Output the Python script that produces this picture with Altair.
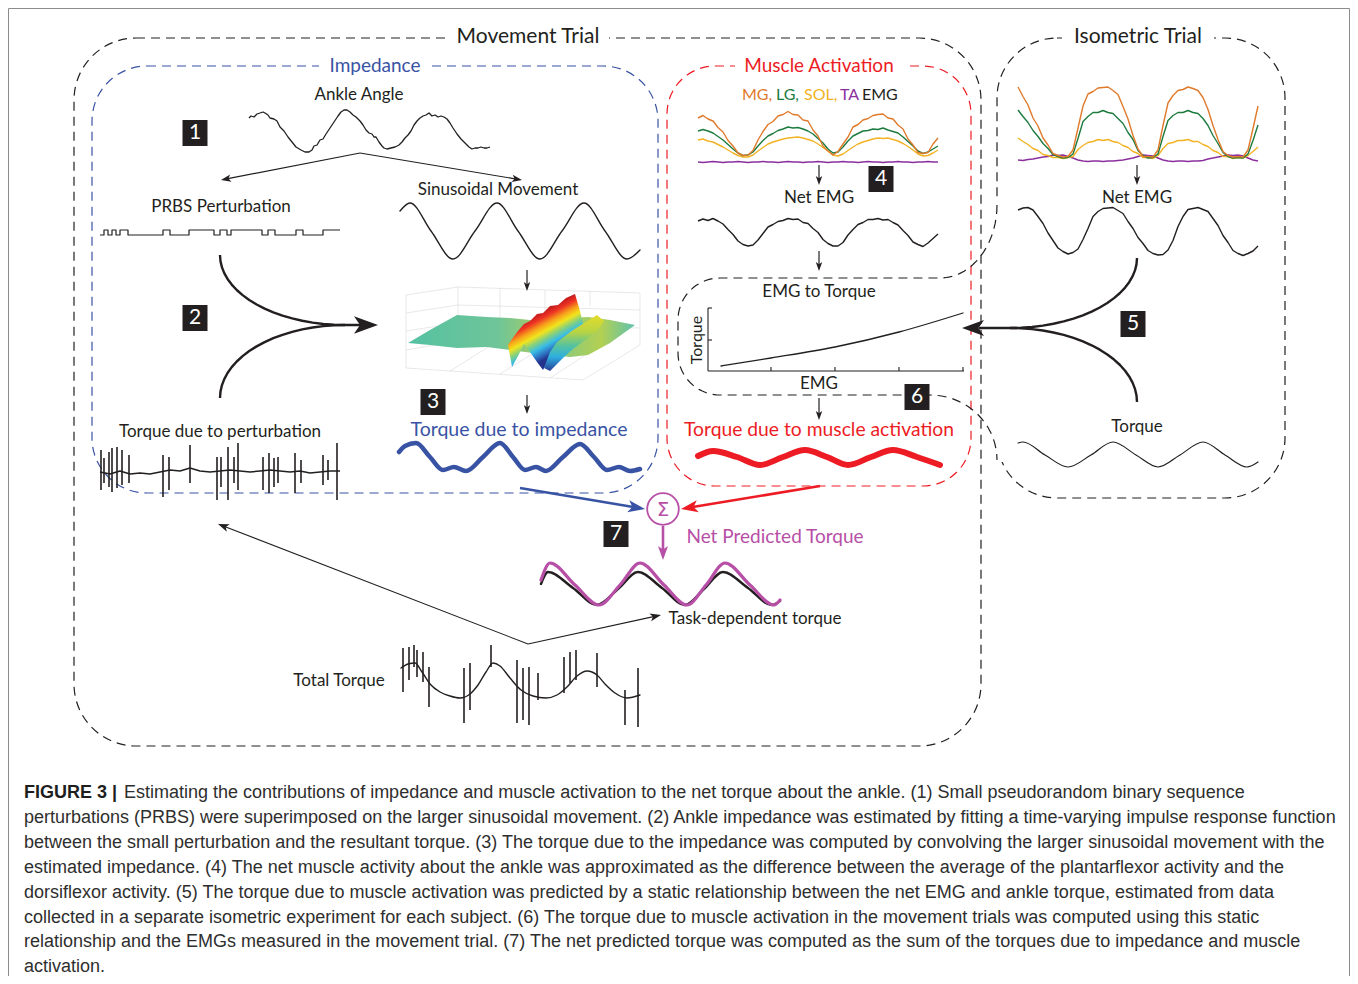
import math
import altair as alt
import pandas as pd

# ---------------- palette / fonts ----------------
INK = "#231f20"
BLUE = "#3953a4"
RED = "#ed1c24"
MAGENTA = "#b74fa6"
ORANGE = "#e07a2b"
GREEN = "#1d7b3e"
YELLOW = "#f2b324"
PURPLE = "#8c2f9e"
GRID = "#d8d8d8"
FONT = "Lato"
CAPFONT = "Liberation Sans"

# canvas expressed in the reference picture's pixel coordinates
X0, X1, Y0, Y1 = 8, 1350, 8, 976

# ================= DATA =================
# Ankle angle trace
ankle_x = [249, 251, 254, 257, 260, 263, 265, 268, 270, 274, 277, 280, 284, 288, 292, 296, 301, 305, 309, 312,
           314, 317, 320, 323, 326, 330, 334, 338, 341, 344, 347, 350, 353, 356, 360, 363, 366, 369, 372, 374,
           376, 379, 382, 384, 387, 391, 395, 399, 402, 405, 408, 411, 414, 417, 420, 423, 426, 429, 432, 435,
           438, 441, 444, 447, 450, 453, 457, 461, 465, 469, 472, 475, 478, 481, 484, 487, 490]
ankle_y = [118, 116, 117, 114, 113, 112, 113, 115, 118, 119, 121, 127, 131, 137, 142, 147, 150, 152, 152, 150,
           146, 145, 140, 139, 134, 128, 122, 116, 112, 110, 110, 112, 115, 117, 121, 125, 130, 133, 134, 137,
           137, 142, 146, 148, 149, 148, 147, 145, 142, 138, 135, 131, 125, 121, 118, 116, 115, 113, 116, 115,
           117, 116, 117, 119, 123, 128, 134, 139, 143, 147, 149, 148, 148, 147, 148, 148, 147]

# PRBS perturbation (step signal)
prbs_x = [100, 104, 108, 112, 116, 120, 128, 163, 170, 189, 214, 220, 227, 231, 262, 268, 275, 296, 303, 323, 340]
prbs_y = [235, 230, 235, 230, 235, 230, 235, 230, 235, 230, 235, 230, 235, 230, 235, 230, 235, 230, 235, 230, 230]

# Sinusoidal movement
sine_x = [400, 410, 431, 453, 475, 497, 518, 540, 562, 584, 605, 627, 640]
sine_y = [211, 203, 231, 259, 231, 203, 231, 259, 231, 203, 231, 259, 250]

# Torque due to perturbation: baseline + spikes
pert_x = [100, 110, 120, 130, 140, 150, 160, 170, 180, 190, 200, 210, 220, 230, 240, 250, 260, 270, 280, 290,
          300, 310, 320, 330, 340]
pert_y = [472, 474, 471, 474, 473, 474, 472, 470, 471, 468, 471, 472, 471, 470, 471, 472, 471, 470, 471, 472,
          471, 473, 472, 471, 471]
pert_spk_x = [101, 104, 109, 112, 117, 122, 129, 163, 169, 190, 217, 221, 228, 234, 238, 263, 269, 274, 278, 295,
              301, 323, 328, 337]
pert_spk_top = [450, 458, 452, 448, 447, 450, 455, 455, 457, 445, 457, 457, 447, 457, 443, 457, 453, 458, 457, 453,
                460, 455, 460, 443]
pert_spk_bot = [490, 483, 487, 492, 488, 485, 483, 497, 490, 483, 500, 487, 500, 483, 490, 490, 493, 487, 483, 493,
                483, 485, 480, 500]

# Torque due to impedance (blue)
imp_x = [399, 405, 416, 430, 443, 454, 466, 483, 500, 513, 525, 536, 546, 563, 580, 594, 607, 619, 630, 640]
imp_y = [452, 446, 443, 457, 470, 467, 471, 457, 443, 457, 470, 467, 471, 457, 444, 457, 470, 467, 471, 469]

# Movement-trial EMGs (x = 698 + 5*i)
mv_emg_x0, mv_emg_dx = 698, 5
mg_mv = [118, 115.5, 119, 121, 127.5, 132, 140.5, 146, 153, 155.5,
         155, 150.5, 140, 131.5, 124.5, 121.5, 116, 114.5, 111.5, 114.5,
         115, 120, 121, 130, 136, 146, 151, 155, 151.5, 144,
         137, 127, 124.5, 120, 118.5, 115.5, 114.5, 114, 118, 119,
         125, 129, 139, 145, 152.5, 153.5, 152.5, 144, 138]
lg_mv = [131, 129.5, 131, 133, 136.5, 140, 144.5, 149, 153, 155.5,
         155, 152, 146, 140.5, 136, 133.5, 130.5, 129, 127, 128,
         127.5, 129, 131, 134, 138.5, 143, 149, 153, 152, 147,
         141, 136, 133.5, 131, 130.5, 129, 129.5, 128, 130, 131.5,
         133, 137, 141.5, 146, 151, 153.5, 152, 149, 146]
sol_mv = [140, 139, 141, 142, 144.5, 147, 150, 153, 155.5, 157,
          157, 155, 151, 147.5, 144, 142, 140.5, 139, 138, 137.5,
          137, 138, 139.5, 141, 144, 147.5, 151, 155, 156, 154,
          150.5, 147, 144, 142, 140.5, 139, 138, 138.5, 138, 139.5,
          141, 143.5, 146.5, 150, 154, 156, 155.5, 153, 150]
ta_mv = [162, 162.5, 162, 161.5, 162, 162.5, 162, 162, 161.5, 162,
         162.5, 162, 162, 161.5, 162, 162, 162.5, 162, 161.5, 162,
         162, 162.5, 162, 162, 161.5, 162, 162.5, 162, 162, 161.5,
         162, 162, 162.5, 162, 161.5, 162, 162, 162.5, 162, 162,
         161.5, 162, 162, 162.5, 162, 162, 161.5, 162, 162]
net_mv = [221, 219, 220.5, 218.5, 221, 224, 229.5, 234.5, 241, 244.5,
          246, 245, 240, 233.5, 227, 224.5, 221.5, 220.5, 218.5, 219.5,
          219, 222.5, 223.5, 228.5, 232.5, 239.5, 243.5, 246, 246, 242.5,
          235, 229.5, 224.5, 222.5, 219.5, 219.5, 218.5, 220, 219.5, 222.5,
          225, 230.5, 235.5, 242, 244.5, 246.5, 243, 238.5, 234]

# Isometric-trial EMGs (x = 1018 + 5*i)
iso_emg_x0, iso_emg_dx = 1018, 5
mg_iso = [87, 96.5, 105, 118, 126, 138, 145, 153.5, 155.5, 157,
          156.5, 150, 128, 106, 94, 91.5, 88, 87.5, 87, 90.5,
          94.5, 106.5, 119, 135.5, 149, 156.5, 156.5, 157, 150, 125.5,
          103, 95.5, 90.5, 89.5, 87, 88.5, 90.5, 97.5, 109.5, 125.5,
          139.5, 151.5, 155.5, 157, 156.5, 157, 150, 128.5, 106]
lg_iso = [110, 116.5, 122.5, 130.5, 136.5, 143.5, 148.5, 154.5, 156.5, 158,
          157.5, 154, 138.5, 121.5, 116.5, 112.5, 112.5, 110.5, 112.5, 113.5,
          118.5, 123.5, 132.5, 139.5, 150.5, 155.5, 158, 157.5, 154, 136.5,
          120.5, 115.5, 112.5, 112.5, 110.5, 112.5, 113.5, 118.5, 125.5, 135.5,
          143.5, 152.5, 156.5, 158, 157.5, 158, 154, 140.5, 125]
sol_iso = [138, 141.5, 144.5, 148.5, 150.5, 154.5, 155.5, 157.5, 157.5, 158.5,
           157.5, 156.5, 149.5, 145.5, 142.5, 141.5, 139.5, 140.5, 139.5, 141.5,
           142.5, 145.5, 147.5, 151.5, 153.5, 157.5, 157.5, 158.5, 155.5, 148.5,
           143.5, 142.5, 140.5, 140.5, 139.5, 141.5, 141.5, 144.5, 146.5, 150.5,
           152.5, 156.5, 156.5, 158.5, 157.5, 158, 155.5, 151.5, 147]
ta_iso = [160, 160.5, 159.5, 159, 158, 157, 156.5, 155, 155.5, 155,
          156.5, 158, 160, 161, 161.5, 161, 161, 161.5, 161, 161,
          160.5, 160, 159, 158, 156.5, 155, 155.5, 156, 158, 160,
          161, 161.5, 161, 161, 161.5, 161, 161, 160.5, 159, 158,
          157, 156, 155, 155.5, 155, 156, 158, 160, 161]
net_iso = [210, 208, 207.5, 210, 216.5, 223.5, 233, 240.5, 248, 251.5,
           254, 252.5, 249, 239.5, 228.5, 216.5, 211.5, 208.5, 208, 207.5,
           210.5, 213.5, 221.5, 228.5, 237.5, 243.5, 250.5, 253.5, 255, 254.5,
           250, 240.5, 226.5, 216.5, 209.5, 208.5, 207.5, 209.5, 211.5, 218.5,
           225.5, 235.5, 242.5, 250.5, 253.5, 255.5, 253.5, 251, 246]

# EMG to torque static curve
e2t_x = [721, 771, 835, 899, 963]
e2t_y = [366, 358, 347, 332, 313]

# Torque due to muscle activation (red)
mus_x = [698, 713, 737, 760, 783, 805, 827, 848, 871, 893, 917, 940]
mus_y = [456, 451, 457, 465, 457, 450, 457, 465, 457, 450, 457, 465]

# Isometric torque
isoT_x = [1018, 1023, 1045, 1068, 1091, 1113, 1136, 1158, 1180, 1203, 1225, 1247, 1258]
isoT_y = [443, 442, 455, 467, 455, 442, 455, 467, 455, 442, 455, 467, 462]

# Net predicted torque (magenta) and task-dependent torque (black)
pred_x = [541, 550, 575, 599, 620, 640, 664, 687, 706, 725, 750, 774, 780]
pred_y = [580, 563, 585, 605, 585, 563, 585, 605, 585, 563, 585, 605, 600]
task_x = [541, 548, 573, 597, 618, 638, 662, 685, 704, 723, 748, 772, 780]
task_y = [584, 572, 588, 605, 589, 572, 588, 605, 589, 572, 588, 605, 601]

# Total torque: baseline + spikes
tot_x = [401, 408, 415, 422, 430, 440, 450, 460, 470, 478, 486, 493, 500, 510, 521, 533, 546, 557, 567, 577,
         587, 597, 605, 615, 627, 640]
tot_y = [668, 664, 663, 672, 684, 692, 696, 698, 694, 685, 672, 663, 666, 678, 690, 696, 698, 695, 687, 676,
         671, 675, 684, 693, 698, 695]
tot_spk_x = [403, 409, 414, 417, 423, 429, 464, 470, 491, 517, 523, 529, 538, 564, 570, 576, 597, 625, 638]
tot_spk_top = [648, 647, 645, 650, 652, 667, 668, 663, 645, 660, 668, 667, 673, 657, 652, 650, 653, 690, 668]
tot_spk_bot = [692, 680, 667, 677, 682, 707, 723, 710, 667, 723, 720, 725, 700, 693, 683, 680, 687, 725, 727]

# 3-D impedance surface (plane + two ridges)
plane_x = [408, 430, 457, 487, 510, 540, 570, 588, 610, 635]
plane_top = [343, 330, 315, 317, 318, 321, 318, 317, 320, 325]
plane_bot = [343, 345, 348, 347, 350, 354, 357, 355, 343, 325]
r1_x = [508, 512, 518, 524, 530, 537, 543, 550, 558, 566, 575, 580, 584]
r1_top = [345, 339, 331, 324, 321, 314, 313, 306, 305, 298, 294, 311, 328]
r1_bot = [345, 367, 356, 344, 352, 362, 370, 357, 346, 339, 334, 331, 328]
r2_x = [544, 550, 557, 565, 573, 581, 589, 597, 604]
r2_top = [368, 352, 342, 336, 330, 325, 320, 315, 321]
r2_bot = [368, 371, 364, 356, 349, 343, 337, 331, 321]

caption_lines = [
    "Estimating the contributions of impedance and muscle activation to the net torque about the ankle. (1) Small pseudorandom binary sequence",
    "perturbations (PRBS) were superimposed on the larger sinusoidal movement. (2) Ankle impedance was estimated by fitting a time-varying impulse response function",
    "between the small perturbation and the resultant torque. (3) The torque due to the impedance was computed by convolving the larger sinusoidal movement with the",
    "estimated impedance. (4) The net muscle activity about the ankle was approximated as the difference between the average of the plantarflexor activity and the",
    "dorsiflexor activity. (5) The torque due to muscle activation was predicted by a static relationship between the net EMG and ankle torque, estimated from data",
    "collected in a separate isometric experiment for each subject. (6) The torque due to muscle activation in the movement trials was computed using this static",
    "relationship and the EMGs measured in the movement trial. (7) The net predicted torque was computed as the sum of the torques due to impedance and muscle",
    "activation.",
]

# ================= helpers =================
xs = alt.Scale(domain=[X0, X1], nice=False, zero=False)
ys = alt.Scale(domain=[Y0, Y1], nice=False, zero=False, reverse=True)


def X(f="x"):
    return alt.X(f"{f}:Q", scale=xs, axis=None)


def Y(f="y"):
    return alt.Y(f"{f}:Q", scale=ys, axis=None)


def add_poly(rows, name, px, py, color, width):
    for k, (a, b) in enumerate(zip(px, py)):
        rows.append(dict(id=name, i=k, x=a, y=b, c=color, w=width))


def line_layer(rows, interp="linear", dash=None, cap="butt"):
    kw = dict(interpolate=interp, strokeCap=cap, strokeJoin="round")
    if dash:
        kw["strokeDash"] = dash
    return alt.Chart(pd.DataFrame(rows)).mark_line(**kw).encode(
        x=X(), y=Y(), detail="id:N", order=alt.Order("i:Q"),
        color=alt.Color("c:N", scale=None),
        strokeWidth=alt.StrokeWidth("w:Q", scale=None))


def arc(cx, cy, rx, ry, t0, t1, n=18):
    pts = []
    for k in range(n + 1):
        t = math.radians(t0 + (t1 - t0) * k / n)
        pts.append((cx + rx * math.cos(t), cy + ry * math.sin(t)))
    return pts


def rule_rows(rows, x1, y1, x2, y2, color, width):
    rows.append(dict(x=x1, y=y1, x2=x2, y2=y2, c=color, w=width))


def rule_layer(rows):
    return alt.Chart(pd.DataFrame(rows)).mark_rule().encode(
        x=X(), y=Y(), x2="x2:Q", y2="y2:Q", color=alt.Color("c:N", scale=None),
        strokeWidth=alt.StrokeWidth("w:Q", scale=None))


HEAD = "M0,0L0.72,2L0,1.5L-0.72,2Z"
arrow_rows, head_rows, curve_rows = [], [], []


def head(tx, ty, fx, fy, color, L):
    ang = math.degrees(math.atan2(tx - fx, -(ty - fy))) % 360
    head_rows.append(dict(x=tx, y=ty, a=ang, s=L * L, c=color))


def straight_arrow(name, x1, y1, x2, y2, color, width, L):
    d = math.hypot(x2 - x1, y2 - y1)
    ux, uy = (x2 - x1) / d, (y2 - y1) / d
    add_poly(arrow_rows, name, [x1, x2 - ux * L * 0.7], [y1, y2 - uy * L * 0.7], color, width)
    head(x2, y2, x1, y1, color, L)


layers = []

# ---------- outer figure frame ----------
layers.append(alt.Chart(pd.DataFrame([dict(x=8.5, y=8.5, x2=1349.5, y2=1000)])).mark_rect(
    fill="white", stroke="#8c8c8c", strokeWidth=1).encode(x=X(), y=Y(), x2="x2:Q", y2="y2:Q"))

# ---------- dashed rounded boxes ----------
boxes = [
    (74, 38, 981, 746, INK, 62),
    (997, 38, 1285, 498, INK, 60),
    (92, 66, 658, 493, BLUE, 55),
    (667, 66, 971, 486, RED, 48),
]
for (bx1, by1, bx2, by2, col, rad) in boxes:
    layers.append(alt.Chart(pd.DataFrame([dict(x=bx1, y=by1, x2=bx2, y2=by2)])).mark_rect(
        fill="transparent", stroke=col, strokeWidth=1.2, strokeDash=[9, 6], cornerRadius=rad
    ).encode(x=X(), y=Y(), x2="x2:Q", y2="y2:Q"))

# white gaps behind box titles and hiding part of isometric left edge
gaps = [(447, 29, 609, 47), (1062, 29, 1214, 47), (319, 57, 431, 75), (735, 57, 904, 75), (990, 200, 1004, 462)]
layers.append(alt.Chart(pd.DataFrame([dict(x=a, y=b, x2=c, y2=d) for a, b, c, d in gaps])).mark_rect(
    fill="white", strokeWidth=0).encode(x=X(), y=Y(), x2="x2:Q", y2="y2:Q"))

# lobe of the isometric outline that wraps "EMG to Torque"
lobe = (arc(940, 205, 57, 73, 0, 90) + arc(720, 320, 42, 42, 270, 180)
        + arc(720, 353, 42, 42, 180, 90) + arc(930, 460, 67, 65, 270, 360))
lobe_rows = []
add_poly(lobe_rows, "lobe", [p[0] for p in lobe], [p[1] for p in lobe], INK, 1.2)
layers.append(line_layer(lobe_rows, "linear", dash=[9, 6]))

# ---------- 3-D impedance plot ----------
grid = []
for seg in [(406, 295, 406, 368), (406, 295, 458, 287), (458, 287, 640, 293), (640, 293, 640, 345),
            (406, 368, 583, 380), (583, 380, 640, 345), (458, 287, 458, 330), (406, 313, 458, 305),
            (406, 331, 458, 323), (406, 350, 458, 341), (500, 288, 500, 318), (545, 290, 545, 312),
            (590, 291, 590, 306), (458, 305, 640, 310), (458, 323, 640, 328), (450, 371, 490, 346),
            (500, 374, 540, 349), (550, 378, 590, 352)]:
    rule_rows(grid, *seg, GRID, 0.6)
layers.append(rule_layer(grid))


def grad(stops, x1, y1, x2, y2):
    return alt.Gradient(gradient="linear", stops=[alt.GradientStop(color=c, offset=o) for o, c in stops],
                        x1=x1, y1=y1, x2=x2, y2=y2)


plane_df = pd.DataFrame(dict(x=plane_x, y=plane_top, y2=plane_bot))
layers.append(alt.Chart(plane_df).mark_area(color=grad(
    [(0, "#55c1a2"), (0.4, "#6fc598"), (0.55, "#9ccb6e"), (0.7, "#8fcb78"), (0.85, "#b3d052"), (1, "#5fc2ad")],
    0, 0, 1, 0)).encode(x=X(), y=Y(), y2="y2:Q"))
r1_df = pd.DataFrame(dict(x=r1_x, y=r1_top, y2=r1_bot))
layers.append(alt.Chart(r1_df).mark_area(color=grad(
    [(0, "#c81e1e"), (0.12, "#ee3324"), (0.28, "#f7a21b"), (0.42, "#f2e41c"), (0.58, "#7fcf83"),
     (0.72, "#38bde6"), (0.88, "#2d6fc0"), (1, "#24338c")], 0.56, 0.18, 0.83, 0.67)).encode(
    x=X(), y=Y(), y2="y2:Q"))
r2_df = pd.DataFrame(dict(x=r2_x, y=r2_top, y2=r2_bot))
layers.append(alt.Chart(r2_df).mark_area(color=grad(
    [(0, "#e3dc2a"), (0.3, "#b9d443"), (0.55, "#55c3a0"), (0.75, "#2eaee0"), (1, "#283e98")],
    0, 0, 0, 1)).encode(x=X(), y=Y(), y2="y2:Q"))

# ---------- signal traces ----------
lin = []
add_poly(lin, "a_ankle", ankle_x, ankle_y, INK, 1.3)
add_poly(lin, "b_pert", pert_x, pert_y, INK, 1.5)
mvx = [mv_emg_x0 + mv_emg_dx * k for k in range(len(mg_mv))]
isx = [iso_emg_x0 + iso_emg_dx * k for k in range(len(mg_iso))]
add_poly(lin, "c_ta_mv", mvx, ta_mv, PURPLE, 1.4)
add_poly(lin, "d_sol_mv", mvx, sol_mv, YELLOW, 1.4)
add_poly(lin, "e_lg_mv", mvx, lg_mv, GREEN, 1.4)
add_poly(lin, "f_mg_mv", mvx, mg_mv, ORANGE, 1.4)
add_poly(lin, "g_net_mv", mvx, net_mv, INK, 1.4)
add_poly(lin, "h_ta_iso", isx, ta_iso, PURPLE, 1.4)
add_poly(lin, "i_sol_iso", isx, sol_iso, YELLOW, 1.4)
add_poly(lin, "j_lg_iso", isx, lg_iso, GREEN, 1.4)
add_poly(lin, "k_mg_iso", isx, mg_iso, ORANGE, 1.4)
add_poly(lin, "l_net_iso", isx, net_iso, INK, 1.4)
layers.append(line_layer(lin, "linear"))

step = []
add_poly(step, "prbs", prbs_x, prbs_y, INK, 1.2)
layers.append(line_layer(step, "step-after"))

task_rows = []
add_poly(task_rows, "task", task_x, task_y, INK, 2.4)
layers.append(line_layer(task_rows, "monotone", cap="round"))

smooth = []
add_poly(smooth, "a_sine", sine_x, sine_y, INK, 1.4)
add_poly(smooth, "b_imp", imp_x, imp_y, BLUE, 4.5)
add_poly(smooth, "c_mus", mus_x, mus_y, RED, 6)
add_poly(smooth, "d_isoT", isoT_x, isoT_y, INK, 1.2)
add_poly(smooth, "e_pred", pred_x, pred_y, MAGENTA, 3.2)
add_poly(smooth, "f_tot", tot_x, tot_y, INK, 1.4)
add_poly(smooth, "g_e2t", e2t_x, e2t_y, INK, 1.3)
layers.append(line_layer(smooth, "monotone", cap="round"))

# spikes and small axes
rules = []
for a, t, b in zip(pert_spk_x, pert_spk_top, pert_spk_bot):
    rule_rows(rules, a, t, a, b, INK, 1.6)
for a, t, b in zip(tot_spk_x, tot_spk_top, tot_spk_bot):
    rule_rows(rules, a, t, a, b, INK, 1.6)
for seg in [(708, 308, 708, 371), (708, 371, 964, 371), (708, 308, 712, 308), (708, 340, 712, 340),
            (771, 371, 771, 367), (835, 371, 835, 367), (899, 371, 899, 367), (963, 371, 963, 367)]:
    rule_rows(rules, *seg, INK, 1.1)
layers.append(rule_layer(rules))

# ---------- arrows ----------
straight_arrow("a1", 360, 153, 221, 180, INK, 1.2, 10)
straight_arrow("a2", 360, 153, 522, 180, INK, 1.2, 10)
straight_arrow("d1", 527, 270, 527, 291, INK, 1.2, 9)
straight_arrow("d2", 527, 395, 527, 414, INK, 1.2, 9)
straight_arrow("d3", 819, 165, 819, 185, INK, 1.2, 9)
straight_arrow("d4", 819, 251, 819, 271, INK, 1.2, 9)
straight_arrow("d5", 819, 398, 819, 420, INK, 1.2, 9)
straight_arrow("d6", 1137, 165, 1137, 185, INK, 1.2, 9)
straight_arrow("blue", 520, 488, 645, 509, BLUE, 2.6, 17)
straight_arrow("red", 820, 486, 681, 509, RED, 2.6, 17)
straight_arrow("mag", 663, 526, 663, 560, MAGENTA, 2.6, 14)
straight_arrow("v1", 528, 644, 218, 524, INK, 1.1, 11)
straight_arrow("v2", 528, 644, 661, 615, INK, 1.1, 11)
layers.append(line_layer(arrow_rows, "linear"))

# big merging arrows (2) and (5)
up2 = arc(345, 255, 125, 70, 180, 90) + [(361, 325)]
lo2 = arc(345, 398, 125, 73, 180, 270)
up5 = arc(1010, 258, 127, 70, 0, 90) + [(979, 328)]
lo5 = arc(1010, 402, 127, 74, 0, -90)
for nm, pts in [("u2", up2), ("l2", lo2), ("u5", up5), ("l5", lo5)]:
    add_poly(curve_rows, nm, [p[0] for p in pts], [p[1] for p in pts], INK, 2.4)
layers.append(line_layer(curve_rows, "linear"))
head(378, 325, 340, 325, INK, 24)
head(962, 328, 1000, 328, INK, 22)

layers.append(alt.Chart(pd.DataFrame(head_rows)).mark_point(
    shape=HEAD, filled=True, opacity=1, strokeWidth=0).encode(
    x=X(), y=Y(), angle=alt.Angle("a:Q", scale=None), size=alt.Size("s:Q", scale=None),
    color=alt.Color("c:N", scale=None)))

# summation node
layers.append(alt.Chart(pd.DataFrame([dict(x=663, y=509)])).mark_point(
    shape="circle", size=1000, filled=False, stroke=MAGENTA, strokeWidth=1.8, fill="white", fillOpacity=1,
    opacity=1).encode(x=X(), y=Y()))
layers.append(alt.Chart(pd.DataFrame([dict(x=663, y=510, t="Σ")])).mark_text(
    font="DejaVu Sans", fontSize=20, color=MAGENTA, align="center", baseline="middle").encode(
    x=X(), y=Y(), text="t:N"))

# ---------- numbered black boxes ----------
steps = [("1", 195, 133), ("2", 195, 318), ("3", 433, 402), ("4", 881, 179), ("5", 1133, 324),
         ("6", 917, 397), ("7", 616, 534)]
nb = pd.DataFrame([dict(t=t, x=a - 12.5, x2=a + 12.5, y=b - 13, y2=b + 13, cx=a, cy=b) for t, a, b in steps])
layers.append(alt.Chart(nb).mark_rect(color=INK).encode(x=X(), y=Y(), x2="x2:Q", y2="y2:Q"))
layers.append(alt.Chart(nb).mark_text(font=FONT, fontSize=21, color="white", align="center",
                                      baseline="middle").encode(x=X("cx"), y=Y("cy"), text="t:N"))

# ---------- labels ----------
labels = [
    ("Movement Trial", 528, 37, INK, 21, 0),
    ("Isometric Trial", 1138, 37, INK, 21, 0),
    ("Impedance", 375, 66, BLUE, 19, 0),
    ("Muscle Activation", 819, 66, RED, 19, 0),
    ("Ankle Angle", 359, 95, INK, 17, 0),
    ("PRBS Perturbation", 221, 207, INK, 17, 0),
    ("Sinusoidal Movement", 498, 190, INK, 17, 0),
    ("Net EMG", 819, 198, INK, 17, 0),
    ("Net EMG", 1137, 198, INK, 17, 0),
    ("EMG to Torque", 819, 292, INK, 17, 0),
    ("Torque", 697, 340, INK, 16, 270),
    ("EMG", 819, 384, INK, 17, 0),
    ("Torque due to perturbation", 220, 432, INK, 17, 0),
    ("Torque due to impedance", 519, 430, BLUE, 19.5, 0),
    ("Torque due to muscle activation", 819, 430, RED, 19.3, 0),
    ("Torque", 1137, 427, INK, 17, 0),
    ("Net Predicted Torque", 775, 537, MAGENTA, 19, 0),
    ("Task-dependent torque", 755, 619, INK, 17, 0),
    ("Total Torque", 339, 681, INK, 17, 0),
]
lab_df = pd.DataFrame([dict(t=t, x=a, y=b, c=c, s=s, a=g) for t, a, b, c, s, g in labels])
layers.append(alt.Chart(lab_df).mark_text(font=FONT, align="center", baseline="middle").encode(
    x=X(), y=Y(), text="t:N", color=alt.Color("c:N", scale=None), size=alt.Size("s:Q", scale=None),
    angle=alt.Angle("a:Q", scale=None)))

emg_names = [("MG,", 742, ORANGE), ("LG,", 776, GREEN), ("SOL,", 804, YELLOW), ("TA", 840, PURPLE),
             ("EMG", 862, INK)]
layers.append(alt.Chart(pd.DataFrame([dict(t=t, x=a, y=95, c=c) for t, a, c in emg_names])).mark_text(
    font=FONT, fontSize=16, align="left", baseline="middle").encode(
    x=X(), y=Y(), text="t:N", color=alt.Color("c:N", scale=None)))

# ---------- caption ----------
cap_y = [793, 818, 843, 868, 892.5, 917.5, 942, 966.5]
cap_rows = [dict(t=caption_lines[0], x=124, y=cap_y[0])]
for k in range(1, len(caption_lines)):
    cap_rows.append(dict(t=caption_lines[k], x=24, y=cap_y[k]))
layers.append(alt.Chart(pd.DataFrame(cap_rows)).mark_text(
    font=CAPFONT, fontSize=18, color="#2e2e2e", align="left", baseline="middle").encode(
    x=X(), y=Y(), text="t:N"))
layers.append(alt.Chart(pd.DataFrame([dict(t="FIGURE 3 |", x=24, y=cap_y[0])])).mark_text(
    font=CAPFONT, fontSize=18, fontWeight="bold", color="#1e1e1e", align="left", baseline="middle").encode(
    x=X(), y=Y(), text="t:N"))

chart = alt.layer(*layers).properties(
    width=X1 - X0, height=Y1 - Y0, padding=0, autosize="none"
).configure_view(stroke=None)

chart.save("out.html", embed_options={"renderer": "svg", "actions": False})
